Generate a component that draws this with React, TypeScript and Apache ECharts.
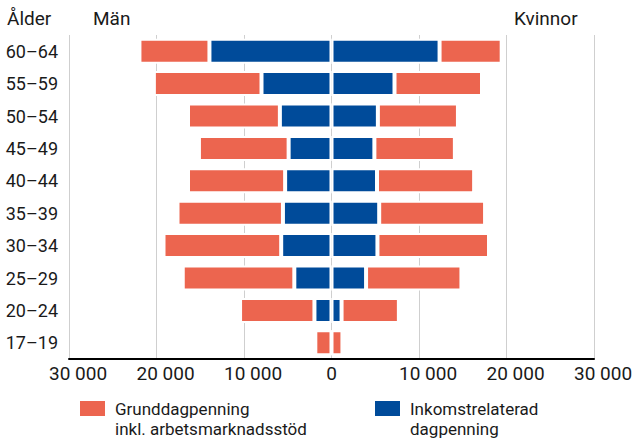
import React, { useEffect, useRef } from "react";
import * as echarts from "echarts";

const categories = ["17–19", "20–24", "25–29", "30–34", "35–39", "40–44", "45–49", "50–54", "55–59", "60–64"];
const menIncome = [0, 1950, 4250, 5750, 5550, 5300, 4900, 5900, 8000, 13950];
const menBasic = [1850, 8500, 12750, 13450, 12050, 11100, 10250, 10500, 12300, 8000];
const womenIncome = [0, 1150, 3950, 5250, 5450, 5200, 4900, 5300, 7200, 12350];
const womenBasic = [1250, 6550, 10900, 12750, 12100, 11100, 9200, 9150, 10000, 7100];
const xTicks = [-30000, -20000, -10000, 0, 10000, 20000, 30000];
const basicLegendLines = ["Grunddagpenning", "inkl. arbetsmarknadsstöd"];
const incomeLegendLines = ["Inkomstrelaterad", "dagpenning"];

const BASIC = "Grunddagpenning inkl. arbetsmarknadsstöd";
const INCOME = "Inkomstrelaterad dagpenning";
const ORANGE = "#ec654f";
const BLUE = "#004b9a";
const FONT = "Roboto";
const TXT = "#1a1a1a";

function fmt(v: number): string {
  const a = Math.abs(v);
  if (a === 0) return "0";
  return String(a).replace(/\B(?=(\d{3})+(?!\d))/g, " ");
}

function legendGraphic(x: number, color: string, lines: string[]) {
  const els: any[] = [
    { type: "rect", shape: { x, y: 401, width: 25, height: 15 }, style: { fill: color } },
  ];
  lines.forEach((t, i) => {
    els.push({
      type: "text",
      x: x + 35,
      y: 408.5 + i * 20.5,
      style: { text: t, fontFamily: FONT, fontSize: 17, fill: TXT, verticalAlign: "middle", align: "left" },
    });
  });
  return els;
}

export default function App() {
  const ref = useRef<HTMLDivElement>(null);
  useEffect(() => {
    if (!ref.current) return;
    const chart = echarts.init(ref.current, null, { renderer: "svg" });
    const barCommon = {
      type: "bar" as const,
      stack: "all",
      barWidth: 25,
    };
    chart.setOption({
      animation: false,
      textStyle: { fontFamily: FONT },
      grid: { left: 69, right: 42, top: 35, bottom: 80, containLabel: false },
      xAxis: {
        type: "value",
        min: xTicks[0],
        max: xTicks[xTicks.length - 1],
        interval: 10000,
        axisLine: { show: true, onZero: false, lineStyle: { color: "#000", width: 2 } },
        axisTick: { show: false },
        splitLine: { show: true, lineStyle: { color: "#cfcfcf", width: 1 } },
        axisLabel: {
          margin: 5,
          fontFamily: FONT,
          fontSize: 19,
          color: TXT,
          formatter: (v: number) => (v === 0 ? "{z|0}" : "{p|" + fmt(v) + "}"),
          rich: {
            p: { fontFamily: FONT, fontSize: 19, color: TXT, padding: [0, 0, 0, 18] },
            z: { fontFamily: FONT, fontSize: 19, color: TXT },
          },
        },
      },
      yAxis: {
        type: "category",
        data: categories,
        axisLine: { show: false },
        axisTick: { show: false },
        splitLine: { show: false },
        axisLabel: { margin: 11, fontFamily: FONT, fontSize: 18, color: TXT },
      },
      legend: { show: false, data: [BASIC, INCOME] },
      graphic: [
        { type: "text", left: 7, top: 9, style: { text: "Ålder", fontFamily: FONT, fontSize: 19, fill: TXT } },
        { type: "text", left: 93, top: 9, style: { text: "Män", fontFamily: FONT, fontSize: 19, fill: TXT } },
        { type: "text", left: 514, top: 9, style: { text: "Kvinnor", fontFamily: FONT, fontSize: 19, fill: TXT } },
        ...legendGraphic(80, ORANGE, basicLegendLines),
        ...legendGraphic(375, BLUE, incomeLegendLines),
      ],
      series: [
        { ...barCommon, name: INCOME, data: menIncome.map((v) => -v), itemStyle: { color: BLUE, borderColor: "#fff", borderWidth: 2 } },
        { ...barCommon, name: BASIC, data: menBasic.map((v) => -v), itemStyle: { color: ORANGE, borderColor: "#fff", borderWidth: 2 } },
        { ...barCommon, name: INCOME, data: womenIncome, itemStyle: { color: BLUE, borderColor: "#fff", borderWidth: 2 } },
        { ...barCommon, name: BASIC, data: womenBasic, itemStyle: { color: ORANGE, borderColor: "#fff", borderWidth: 2 } },
      ],
    });
    return () => chart.dispose();
  }, []);
  return <div ref={ref} style={{ width: 636, height: 439, position: "absolute", left: 0, top: 0 }} />;
}
